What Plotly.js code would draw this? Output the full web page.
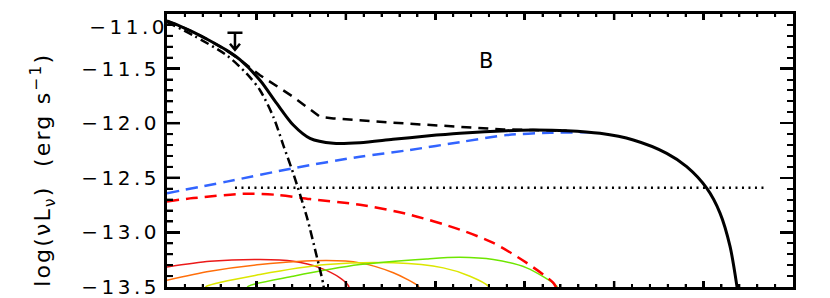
<!DOCTYPE html>
<html>
<head>
<meta charset="utf-8">
<script src="https://cdn.plot.ly/plotly-3.0.1.min.js"></script>
<style>
  html, body { margin: 0; padding: 0; background: #fff; }
  #chart { width: 830px; height: 298px; }
</style>
</head>
<body>
<div id="chart"></div>
<script>
// ---- data ----
const totalX = [0, 0.145, 0.294, 0.48, 0.668, 0.816, 1.04, 1.227, 1.412, 1.599, 1.86, 2.158, 2.527, 2.904, 3.276, 3.799, 4.093, 4.47, 4.842, 5.214, 5.588, 5.811, 6.035, 6.184, 6.296, 6.37, 6.39];
const totalY = [-11.064, -11.11, -11.166, -11.245, -11.333, -11.418, -11.607, -11.819, -12.017, -12.139, -12.184, -12.179, -12.148, -12.118, -12.093, -12.069, -12.063, -12.069, -12.093, -12.154, -12.276, -12.398, -12.595, -12.823, -13.128, -13.477, -13.6];

const envX = [0, 0.145, 0.294, 0.48, 0.668, 0.816, 1.04, 1.412, 1.711, 1.86, 2.531, 3.276, 3.761, 4.093, 4.47];
const envY = [-11.064, -11.11, -11.166, -11.245, -11.333, -11.418, -11.561, -11.759, -11.942, -11.956, -11.996, -12.033, -12.057, -12.063, -12.069];

const diskX = [0, 0.294, 0.668, 0.891, 1.04, 1.189, 1.3, 1.412, 1.562, 1.674, 1.748, 1.765];
const diskY = [-11.075, -11.196, -11.379, -11.546, -11.698, -11.942, -12.2, -12.46, -12.854, -13.219, -13.477, -13.6];

const blueX = [0, 0.668, 1.412, 2.158, 2.717, 3.3, 3.799, 4.283, 4.763];
const blueY = [-12.641, -12.535, -12.412, -12.307, -12.245, -12.17, -12.109, -12.088, -12.083];

const redX = [0, 0.294, 0.853, 1.227, 1.599, 2.158, 2.717, 3.276, 3.649, 4.022, 4.32, 4.36];
const redY = [-12.717, -12.686, -12.647, -12.656, -12.695, -12.747, -12.838, -12.975, -13.097, -13.279, -13.462, -13.52];

const levelX = [0.76, 6.72];
const levelY = [-12.59, -12.59];

const thinRedX = [0, 0.481, 1.04, 1.412, 1.711, 1.934, 2.027, 2.04];
const thinRedY = [-13.316, -13.265, -13.249, -13.265, -13.325, -13.416, -13.486, -13.52];

const orangeX = [0, 0.481, 1.04, 1.786, 2.158, 2.531, 2.81, 2.82];
const orangeY = [-13.438, -13.356, -13.295, -13.258, -13.279, -13.37, -13.493, -13.52];

const yellowX = [0.42, 0.444, 1.04, 1.786, 2.531, 3.09, 3.388, 3.593, 3.6];
const yellowY = [-13.52, -13.493, -13.386, -13.295, -13.279, -13.325, -13.401, -13.493, -13.52];

const greenX = [0.89, 0.909, 1.412, 2.158, 2.904, 3.276, 3.649, 4.022, 4.358, 4.365];
const greenY = [-13.52, -13.493, -13.401, -13.295, -13.243, -13.228, -13.249, -13.325, -13.493, -13.52];

const ulX = [0.76];
const ulY = [-11.172];

const panelLabel = 'B';
const panelX = 3.567, panelY = -11.433;

const yTickVals = [-11.5, -12.0, -12.5, -13.0, -13.5];
const yTickText = ['−11.5', '−12.0', '−12.5', '−13.0', '−13.5'];
const topTickVal = -11.0;
const topTickText = '−11.0';

// axis settings
const xRange = [0, 7], xMajor = 1, xMinor = 0.2;
const yRange = [-13.5, -11.0], yMajor = 0.5, yMinor = 0.1;

// ---- traces ----
function tr(x, y, color, width, dash, shape) {
  return { x: x, y: y, type: 'scatter', mode: 'lines',
    line: { color: color, width: width, dash: dash || 'solid', shape: shape || 'spline', smoothing: 0.8 } };
}
const traces = [
  tr(thinRedX, thinRedY, 'rgb(235,25,25)', 1.5),
  tr(orangeX, orangeY, 'rgb(255,110,10)', 1.5),
  tr(yellowX, yellowY, 'rgb(220,230,0)', 1.5),
  tr(greenX, greenY, 'rgb(110,230,0)', 1.5),
  tr(redX, redY, 'rgb(255,0,0)', 2.5, '12px,7px'),
  tr(blueX, blueY, 'rgb(50,100,255)', 2.5, '12px,7px'),
  tr(levelX, levelY, 'black', 2.5, '2px,4.5px', 'linear'),
  tr(diskX, diskY, 'black', 2.5, '9px,4px,2px,4px'),
  tr(envX, envY, 'black', 2.5, '10px,7px', 'linear'),
  tr(totalX, totalY, 'black', 3)
];

// upper-limit symbol: bar plus downward arrow, anchored at the data point, sized in pixels
const shapes = ulX.map(function (x, i) {
  return { type: 'path', xref: 'x', yref: 'y', xsizemode: 'pixel', ysizemode: 'pixel',
    xanchor: x, yanchor: ulY[i],
    path: 'M-7.5,0H7.5M0,0V-17M-5,-11L0,-17L5,-11',
    line: { color: 'black', width: 2.5 } };
});

// inward tick marks on the left, bottom and top frame edges (pixel lengths, placed on the axis scale)
function near(v, step) { return Math.abs(v / step - Math.round(v / step)) < 1e-6; }
const nY = Math.round((yRange[1] - yRange[0]) / yMinor);
for (let k = 1; k < nY; k++) {
  const v = yRange[0] + k * yMinor;
  const major = near(v - yRange[0], yMajor);
  shapes.push({ type: 'line', xref: 'paper', yref: 'y', xsizemode: 'pixel', xanchor: 0,
    x0: 0, x1: major ? 13 : 6, y0: v, y1: v,
    line: { color: 'black', width: major ? 2.5 : 2 } });
}
const nX = Math.round((xRange[1] - xRange[0]) / xMinor);
for (let k = 1; k < nX; k++) {
  const v = xRange[0] + k * xMinor;
  const major = near(v - xRange[0], xMajor);
  [[0, 1], [1, -1]].forEach(function (side) {
    shapes.push({ type: 'line', xref: 'x', yref: 'paper', ysizemode: 'pixel', yanchor: side[0],
      x0: v, x1: v, y0: 0, y1: side[1] * (major ? 6 : 3),
      line: { color: 'black', width: major ? 2.5 : 2 } });
  });
}

const layout = {
  width: 830, height: 298,
  margin: { l: 167, r: 37, t: 14, b: 11 },
  showlegend: false,
  xaxis: {
    range: xRange, tickmode: 'linear', dtick: xMajor, tick0: 0,
    showgrid: false, zeroline: false, showticklabels: false,
    showline: true, linewidth: 3, linecolor: 'black', mirror: 'allticks',
    ticks: 'inside', ticklen: 6, tickwidth: 2.5, tickcolor: 'black',
    minor: { dtick: xMinor, tick0: 0, ticks: 'inside', ticklen: 3, tickwidth: 2, tickcolor: 'black', showgrid: false }
  },
  yaxis: {
    range: yRange,
    tickmode: 'array', tickvals: yTickVals, ticktext: yTickText,
    ticklabeloverflow: 'allow',
    showgrid: false, zeroline: false,
    showline: true, linewidth: 3, linecolor: 'black', mirror: 'allticks',
    ticks: 'inside', ticklen: 13, tickwidth: 2.5, tickcolor: 'black',
    tickfont: { family: 'DejaVu Sans', size: 20, color: 'black' },
    minor: { dtick: yMinor, tick0: -11.0, ticks: 'inside', ticklen: 6, tickwidth: 2, tickcolor: 'black', showgrid: false }
  },
  shapes: shapes,
  annotations: [
    { xref: 'paper', yref: 'paper', x: 0, y: 0.458, xshift: -124, yshift: -8, xanchor: 'center', yanchor: 'middle',
      textangle: -90, showarrow: false,
      text: 'log(νL<sub>ν</sub>)\u00a0\u00a0(erg s<sup>−1</sup>)',
      font: { family: 'DejaVu Sans', size: 22, color: 'black' } },
    { xref: 'x', yref: 'y', x: panelX, y: panelY, showarrow: false, text: panelLabel,
      font: { family: 'DejaVu Sans', size: 21, color: 'black' } },
    { xref: 'paper', yref: 'y', x: 0, y: topTickVal, xanchor: 'right', yanchor: 'middle',
      xshift: -6, yshift: -13, showarrow: false, text: topTickText,
      font: { family: 'DejaVu Sans', size: 20, color: 'black' } }
  ]
};

Plotly.newPlot('chart', traces, layout, { staticPlot: true }).then(function (gd) {
  // the reference lettering is widely spaced
  gd.querySelectorAll('.yaxislayer-above text').forEach(function (t) { t.style.letterSpacing = '3.5px'; });
  gd.querySelectorAll('.annotation').forEach(function (g) {
    var idx = g.getAttribute('data-index');
    var sp = idx === '0' ? '2.2px' : (idx === '2' ? '3.5px' : null);
    if (sp) g.querySelectorAll('text').forEach(function (t) { t.style.letterSpacing = sp; });
  });
});
</script>
</body>
</html>
